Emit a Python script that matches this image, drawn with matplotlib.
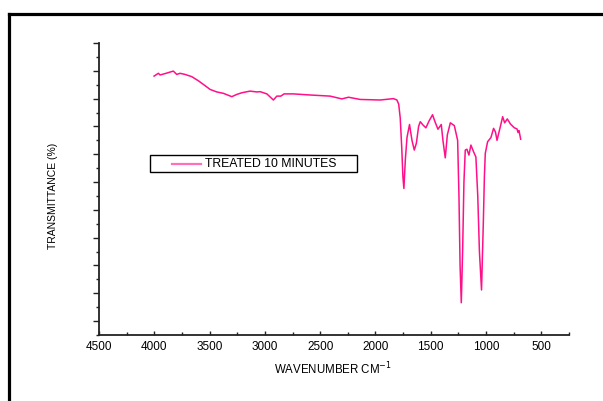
import matplotlib
matplotlib.use("Agg")
import matplotlib.pyplot as plt
from matplotlib.lines import Line2D
from matplotlib.patches import Rectangle
from matplotlib.ticker import MultipleLocator, NullFormatter

plt.rcParams['font.family'] = ['Liberation Sans', 'DejaVu Sans']

# FTIR spectrum, treated sample (10 minutes)
wavenumber = [4002, 3963, 3948, 3894, 3828, 3797, 3767, 3722, 3661, 3601,
              3556, 3495, 3435, 3375, 3299, 3255, 3209, 3134, 3073, 3043,
              2982, 2923, 2892, 2856, 2826, 2742, 2590, 2410, 2304, 2244,
              2138, 1957, 1837, 1806, 1790, 1776, 1762, 1752, 1743,
              1730, 1715, 1692, 1670, 1649, 1630, 1610, 1595, 1570, 1544,
              1515, 1484, 1460, 1435, 1405, 1390, 1369, 1350, 1323, 1287,
              1257, 1245, 1235, 1224, 1212, 1200, 1188, 1173, 1155, 1137,
              1113, 1092, 1075, 1060, 1041, 1025, 1015, 1007, 986, 956,
              932, 915, 901, 871, 850, 832, 808, 780, 744, 720,
              711, 702, 687]
transmittance = [88.1, 89.1, 88.5, 89.1, 89.9, 88.7, 89.1, 88.7, 87.9, 86.4,
                 85.1, 83.3, 82.4, 81.9, 80.7, 81.5, 82.1, 82.7, 82.4, 82.5,
                 81.7, 79.5, 80.9, 80.9, 81.7, 81.7, 81.3, 80.9, 79.9, 80.5,
                 79.7, 79.5, 80.0, 79.5, 78.0, 73.0, 62.0, 52.0, 47.7,
                 58.0, 66.0, 70.7, 65.0, 61.5, 64.0, 70.0, 71.7, 70.5, 69.5,
                 72.0, 74.2, 71.5, 69.0, 70.7, 65.0, 58.7, 67.0, 71.3, 70.3,
                 65.0, 45.0, 20.0, 6.6, 25.0, 50.0, 61.5, 61.8, 59.7, 63.3,
                 60.9, 59.0, 45.0, 25.0, 11.2, 35.0, 52.0, 60.3, 64.5, 66.0,
                 69.3, 68.0, 65.0, 69.9, 73.5, 71.3, 72.7, 70.9, 69.5, 69.1,
                 67.8, 68.5, 65.4]
series_label = "TREATED 10 MINUTES"
x_ticks = [4500, 4000, 3500, 3000, 2500, 2000, 1500, 1000, 500]

W, H = 603, 401
fig = plt.figure(figsize=(W / 100, H / 100), dpi=100)


def fx(px):
    return px / W


def fy(py):
    return 1 - py / H


# outer frame (only left and top edges fall inside the canvas)
fig.add_artist(Line2D([fx(8.5), fx(8.5)], [fy(13.5), -0.05],
                      transform=fig.transFigure, color='black', lw=2.3,
                      solid_capstyle='projecting'))
fig.add_artist(Line2D([fx(8.5), 1.05], [fy(13.5), fy(13.5)],
                      transform=fig.transFigure, color='black', lw=2.3,
                      solid_capstyle='projecting'))

ax = fig.add_axes([fx(99), fy(335), fx(569 - 99), (335 - 43) / H])
ax.plot(wavenumber, transmittance, color='#ff1088', lw=1.1)

ax.set_xlim(4500, 250)
ax.set_ylim(-5, 100)

for side in ('top', 'right'):
    ax.spines[side].set_visible(False)
for side in ('left', 'bottom'):
    ax.spines[side].set_linewidth(1.3)
    ax.spines[side].set_color('#222222')

ax.xaxis.set_minor_locator(MultipleLocator(250))
ax.set_xticks(x_ticks)
ax.set_xticklabels([str(t) for t in x_ticks])
ax.tick_params(axis='x', which='major', direction='in', length=3, width=1.0,
               labelsize=8.5, pad=4, color='#222222')
ax.tick_params(axis='x', which='minor', direction='in', length=2.5, width=1.0,
               color='#222222')

ax.yaxis.set_major_locator(MultipleLocator(10))
ax.yaxis.set_minor_locator(MultipleLocator(5))
ax.yaxis.set_major_formatter(NullFormatter())
ax.tick_params(axis='y', which='major', direction='out', length=4.3, width=1.0,
               color='#222222')
ax.tick_params(axis='y', which='minor', direction='out', length=2.4, width=1.0,
               color='#222222')

fig.text(fx(53), fy(196), "TRANSMITTANCE (%)", rotation=90,
         ha='center', va='center', fontsize=7.5)
fig.text(fx(333), fy(369), "WAVENUMBER CM$^{-1}$", ha='center',
         va='center', fontsize=8.3)

# legend box
fig.add_artist(Rectangle((fx(150), fy(172.3)), fx(357 - 150), (172.3 - 155.5) / H,
                         transform=fig.transFigure, facecolor='white',
                         edgecolor='black', lw=1.0))
fig.add_artist(Line2D([fx(171.5), fx(200.5)], [fy(164), fy(164)],
                      transform=fig.transFigure, color='#ff70b8', lw=1.6))
fig.text(fx(205), fy(164.3), series_label, ha='left', va='center',
         fontsize=8.8)

fig.savefig("out.png", dpi=100)
